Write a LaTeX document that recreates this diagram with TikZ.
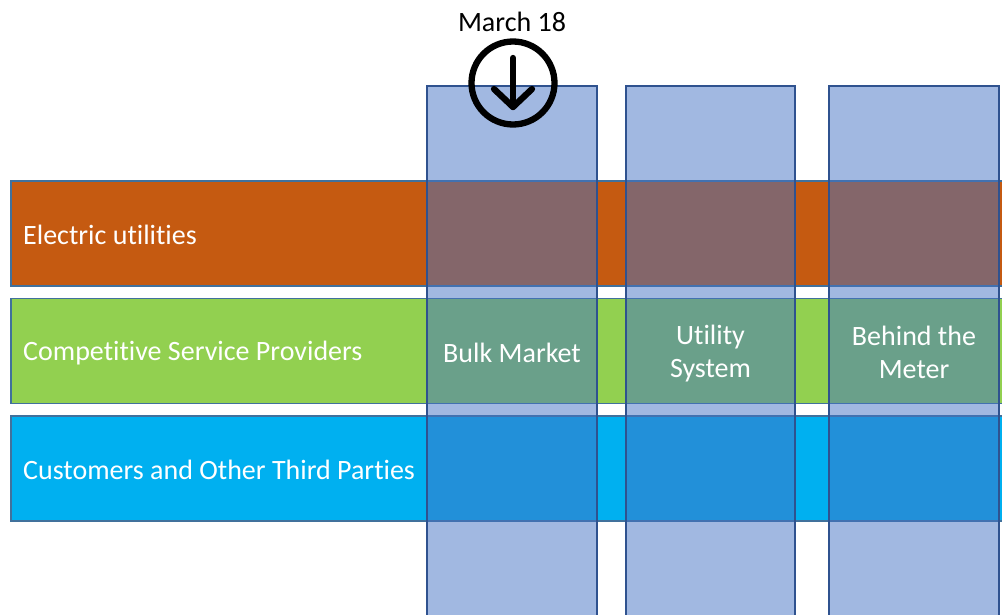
\documentclass[tikz,border=0pt]{standalone}
\usepackage{fontspec}
\setmainfont{Carlito}[Ligatures={NoCommon}]
\definecolor{orangeR}{HTML}{C55A11}
\definecolor{greenR}{HTML}{92D050}
\definecolor{cyanR}{HTML}{00B0F0}
\definecolor{rowedge}{HTML}{41719C}
\definecolor{colfill}{HTML}{4472C4}
\definecolor{coledge}{HTML}{2F528F}
\tikzset{
  rowbox/.style={draw=rowedge, line width=1.3pt, anchor=north west, minimum width=1010pt, minimum height=105pt, inner sep=0pt, outer sep=0pt},
  colbox/.style={draw=coledge, line width=1.3pt, fill=colfill, fill opacity=0.5, anchor=north west, minimum height=560pt, inner sep=0pt, outer sep=0pt},
  rowlabel/.style={text=white, font=\fontsize{28}{33}\selectfont, anchor=west, inner sep=0pt},
  collabel/.style={text=white, font=\fontsize{28}{33}\selectfont, align=center, inner sep=0pt},
  blackline/.style={line width=6.3pt, line cap=round, line join=round, black}
}
\begin{document}
\begin{tikzpicture}[x=1pt,y=-1pt]
\useasboundingbox (0,0) rectangle (1002,615);
\begin{scope}
\clip (0,0) rectangle (1002,615);
\node[rowbox, fill=orangeR] (r1) at (11,181) {};
\node[rowbox, fill=greenR] (r2) at (11,298.5) {};
\node[rowbox, fill=cyanR] (r3) at (11,416) {};
\node[rowlabel] (l1) at (23,234.5) {Electric utilities};
\node[rowlabel] (l2) at (23,353) {Competitive Service Providers};
\node[rowlabel] (l3) at (23,470) {Customers and Other Third Parties};
\node[colbox, minimum width=170pt] (c1) at (427,86) {};
\node[colbox, minimum width=169pt] (c2) at (626,86) {};
\node[colbox, minimum width=170pt] (c3) at (829,86) {};
\node[collabel] (t1) at (512,353) {Bulk Market};
\node[collabel] (t2) at (710.5,354) {Utility\\System};
\node[collabel] (t3) at (914,352.5) {Behind the\\Meter};
\end{scope}
\node[font=\fontsize{28}{33}\selectfont, inner sep=0pt] (date) at (512,22) {March 18};
\node[circle, draw, line width=6.3pt, minimum size=83pt, inner sep=0pt] (clk) at (513,83) {};
\coordinate (atop) at (513,58);
\coordinate (abot) at (513,107);
\coordinate (aleft) at (494,89);
\coordinate (aright) at (532,89);
\draw[blackline] (atop) -- (abot);
\draw[blackline] (aleft) -- (abot) -- (aright);
\end{tikzpicture}
\end{document}
